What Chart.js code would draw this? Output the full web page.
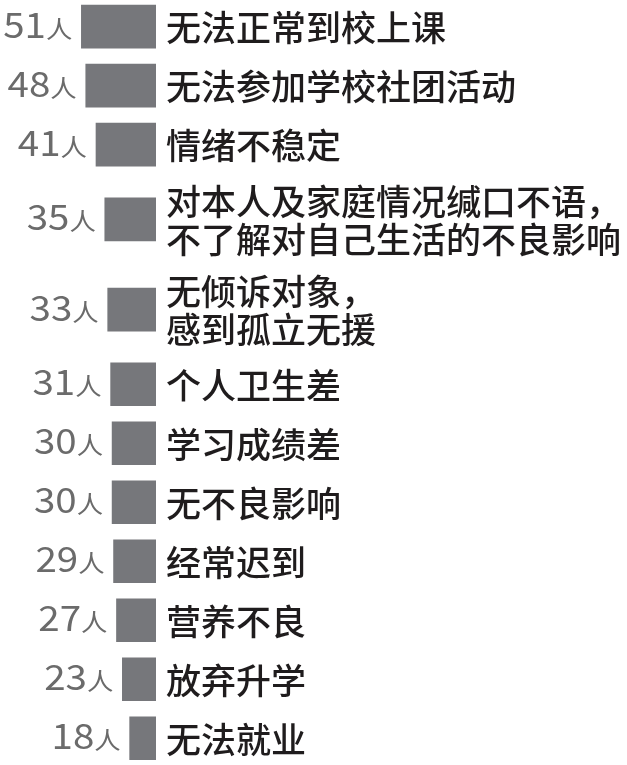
<!DOCTYPE html>
<html><head><meta charset="utf-8">
<script src="https://cdn.jsdelivr.net/npm/chart.js@4/dist/chart.umd.min.js"></script>
<style>html,body{margin:0;padding:0;background:#fff;overflow:hidden}#wrap{width:627px;height:765px}</style>
</head><body><div id="wrap"><canvas id="c" width="627" height="765"></canvas></div>
<script>
const categories = [
  "无法正常到校上课",
  "无法参加学校社团活动",
  "情绪不稳定",
  ["对本人及家庭情况缄口不语，", "不了解对自己生活的不良影响"],
  ["无倾诉对象，", "感到孤立无援"],
  "个人卫生差",
  "学习成绩差",
  "无不良影响",
  "经常迟到",
  "营养不良",
  "放弃升学",
  "无法就业"
];
const values = [51, 48, 41, 35, 33, 31, 30, 30, 29, 27, 23, 18];
const unitLabel = "人";

// row spacing: multi-line labels take extra room
const EXTRA = 0.53;
const rowH = categories.map(c => Array.isArray(c) ? 1 + EXTRA * (c.length - 1) : 1);
const positions = [];
rowH.forEach((h, i) => {
  positions.push(i === 0 ? 0 : positions[i - 1] + (rowH[i - 1] + h) / 2);
});

const FONT = '"Noto Sans CJK SC", "Noto Sans", sans-serif';

const barLabels = {
  id: 'barLabels',
  afterDatasetsDraw(chart) {
    const ctx = chart.ctx;
    const meta = chart.getDatasetMeta(0);
    const area = chart.chartArea;
    meta.data.forEach((bar, i) => {
      const left = Math.min(bar.x, bar.base);
      // value label: number + unit (slightly wide type)
      ctx.save();
      ctx.translate(left - 9, bar.y + 11);
      ctx.scale(1.1, 1);
      ctx.fillStyle = '#6b6b6b';
      ctx.textAlign = 'right';
      ctx.textBaseline = 'alphabetic';
      ctx.font = '24px ' + FONT;
      const w = ctx.measureText(unitLabel).width;
      ctx.fillText(unitLabel, 0, 0);
      ctx.font = '35px ' + FONT;
      ctx.fillText(String(values[i]), -w, 0);
      ctx.restore();
      // category label
      ctx.save();
      const lines = Array.isArray(categories[i]) ? categories[i] : [categories[i]];
      ctx.fillStyle = '#1f1c1d';
      ctx.textAlign = 'left';
      ctx.textBaseline = 'middle';
      ctx.font = '500 35px ' + FONT;
      const lh = 38;
      const y0 = bar.y + 1 - (lines.length - 1) * lh / 2;
      lines.forEach((t, k) => ctx.fillText(t, area.right + 10, y0 + k * lh));
      ctx.restore();
    });
  }
};

new Chart(document.getElementById('c'), {
  type: 'bar',
  data: {
    datasets: [{
      data: values.map((v, i) => ({ x: v, y: positions[i] })),
      backgroundColor: '#76777b',
      borderWidth: 0,
      barThickness: 43
    }]
  },
  options: {
    indexAxis: 'y',
    responsive: false,
    devicePixelRatio: 1,
    animation: false,
    layout: { padding: { left: 0, top: 0, bottom: 0, right: 471 } },
    plugins: { legend: { display: false }, tooltip: { enabled: false } },
    scales: {
      x: { type: 'linear', display: false, offset: false, reverse: true, min: 0, max: 106.6 },
      y: { type: 'linear', display: false, offset: false, reverse: true, min: -0.4525, max: 12.5135 }
    }
  },
  plugins: [barLabels]
});
</script>
</body></html>
